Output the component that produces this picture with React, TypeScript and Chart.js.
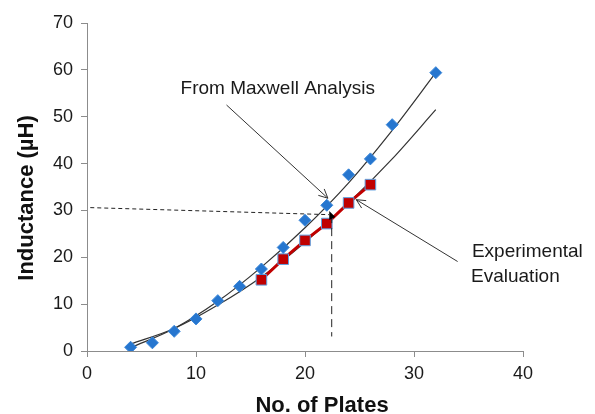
import React, { useEffect, useRef } from "react";
import { Chart, registerables } from "chart.js";

Chart.register(...registerables);

// ---- data ----
const maxwellPlates = [4, 6, 8, 10, 12, 14, 16, 18, 20, 22, 24, 26, 28, 32];
const maxwellL = [0.8, 1.75, 4.2, 6.85, 10.75, 13.8, 17.5, 22.1, 27.9, 31.1, 37.6, 41.0, 48.3, 59.4];
const expPlates = [16, 18, 20, 22, 24, 26];
const expL = [15.2, 19.6, 23.6, 27.2, 31.6, 35.5];
const trendPlates = [4, 8, 12, 16, 20, 24, 28, 32];
const maxwellTrend = [0.7, 4.8, 10.6, 17.9, 26.3, 35.9, 47.1, 59.4];
const expTrend = [1.5, 4.8, 9.8, 15.8, 23.2, 31.6, 41.0, 51.5];
const xTicks = [0, 10, 20, 30, 40];
const yTicks = [0, 10, 20, 30, 40, 50, 60, 70];

const xTitle = "No. of Plates";
const yTitle = "Inductance (µH)";
const label1 = "From Maxwell Analysis";
const label2a = "Experimental";
const label2b = "Evaluation";

const FONT = "'Liberation Sans', Arial, sans-serif";

const toXY = (xs: number[], ys: number[]) => xs.map((x, i) => ({ x, y: ys[i] }));

const annotationPlugin = {
  id: "annotations",
  afterDraw(chart: any) {
    const { ctx, scales } = chart;
    const X = (v: number) => scales.x.getPixelForValue(v);
    const Y = (v: number) => scales.y.getPixelForValue(v);
    ctx.save();

    // dashed guide lines
    ctx.strokeStyle = "#222";
    ctx.lineWidth = 1;
    ctx.setLineDash([4, 3]);
    ctx.beginPath();
    ctx.moveTo(X(0.3), Y(30.6));
    ctx.lineTo(X(22.2), Y(29.1));
    ctx.stroke();
    ctx.setLineDash([8, 5]);
    ctx.beginPath();
    ctx.moveTo(X(22.45), Y(29.0));
    ctx.lineTo(X(22.45), Y(3.1));
    ctx.stroke();
    ctx.setLineDash([]);
    // small filled arrowhead
    const hx = X(22.5), hy = Y(28.8);
    ctx.fillStyle = "#000";
    ctx.beginPath();
    ctx.moveTo(hx + 3, hy + 1);
    ctx.lineTo(hx - 3, hy - 5);
    ctx.lineTo(hx - 3, hy + 4);
    ctx.closePath();
    ctx.fill();

    // arrows with open heads
    const arrow = (x1: number, y1: number, x2: number, y2: number) => {
      const px1 = X(x1), py1 = Y(y1), px2 = X(x2), py2 = Y(y2);
      ctx.strokeStyle = "#333";
      ctx.lineWidth = 1;
      ctx.beginPath();
      ctx.moveTo(px1, py1);
      ctx.lineTo(px2, py2);
      ctx.stroke();
      const a = Math.atan2(py2 - py1, px2 - px1);
      const L = 10, w = 0.45;
      ctx.beginPath();
      ctx.moveTo(px2 - L * Math.cos(a - w), py2 - L * Math.sin(a - w));
      ctx.lineTo(px2, py2);
      ctx.lineTo(px2 - L * Math.cos(a + w), py2 - L * Math.sin(a + w));
      ctx.stroke();
    };
    arrow(12.8, 52.5, 22.1, 32.6);
    arrow(34.0, 19.1, 24.7, 32.3);

    // annotation texts
    ctx.fillStyle = "#1a1a1a";
    ctx.textBaseline = "middle";
    ctx.textAlign = "center";
    ctx.font = `19px ${FONT}`;
    ctx.fillText(label1, X(17.5), Y(55.9));
    ctx.fillText(label2a, X(40.4), Y(21.2));
    ctx.fillText(label2b, X(39.3), Y(15.8));

    // axis titles
    ctx.font = `bold 22px ${FONT}`;
    ctx.fillStyle = "#111";
    ctx.fillText(xTitle, 322, 406);
    ctx.translate(27, 198);
    ctx.rotate(-Math.PI / 2);
    ctx.fillText(yTitle, 0, 0);
    ctx.restore();
  },
};

export default function App() {
  const ref = useRef<HTMLCanvasElement>(null);
  useEffect(() => {
    if (!ref.current) return;
    const chart = new Chart(ref.current, {
      type: "scatter",
      data: {
        datasets: [
          {
            label: "Maxwell",
            data: toXY(maxwellPlates, maxwellL),
            showLine: false,
            pointStyle: "rectRot",
            pointRadius: 6,
            backgroundColor: "#2676cf",
            borderColor: "#3a86d8",
            borderWidth: 1,
          },
          {
            label: "Experimental",
            data: toXY(expPlates, expL),
            showLine: true,
            borderColor: "#c00000",
            borderWidth: 3,
            pointStyle: "rect",
            pointRadius: 7.5,
            pointBackgroundColor: "#c00000",
            pointBorderColor: "#5fa0e0",
            pointBorderWidth: 1,
          },
          {
            label: "Maxwell trend",
            data: toXY(trendPlates, maxwellTrend),
            showLine: true,
            pointRadius: 0,
            borderColor: "#333",
            borderWidth: 1.2,
            cubicInterpolationMode: "monotone",
          },
          {
            label: "Experimental trend",
            data: toXY(trendPlates, expTrend),
            showLine: true,
            pointRadius: 0,
            borderColor: "#333",
            borderWidth: 1.2,
            cubicInterpolationMode: "monotone",
          },
        ],
      },
      options: {
        animation: false,
        responsive: false,
        layout: { padding: { left: 0, right: 72, top: 23, bottom: 0 } },
        plugins: { legend: { display: false }, tooltip: { enabled: false } },
        scales: {
          x: {
            type: "linear",
            min: 0,
            max: 40,
            afterFit: (s: any) => { s.height = 63; },
            afterBuildTicks: (s: any) => { s.ticks = xTicks.map((v) => ({ value: v })); },
            grid: { display: true, drawOnChartArea: false, drawTicks: true, tickLength: 6, color: "#8c8c8c" },
            border: { display: true, color: "#8c8c8c", width: 1 },
            ticks: { color: "#1a1a1a", font: { family: FONT, size: 18 }, padding: 6, maxRotation: 0 },
          },
          y: {
            type: "linear",
            min: 0,
            max: 70,
            afterFit: (s: any) => { s.width = 87; },
            afterBuildTicks: (s: any) => { s.ticks = yTicks.map((v) => ({ value: v })); },
            grid: { display: true, drawOnChartArea: false, drawTicks: true, tickLength: 6, color: "#8c8c8c" },
            border: { display: true, color: "#8c8c8c", width: 1 },
            ticks: { color: "#1a1a1a", font: { family: FONT, size: 18 }, padding: 8 },
          },
        },
      },
      plugins: [annotationPlugin],
    });
    return () => chart.destroy();
  }, []);
  return (
    <div style={{ position: "absolute", left: 0, top: 0, width: 595, height: 414, background: "#fff" }}>
      <canvas ref={ref} width={595} height={414} style={{ width: 595, height: 414 }} />
    </div>
  );
}
